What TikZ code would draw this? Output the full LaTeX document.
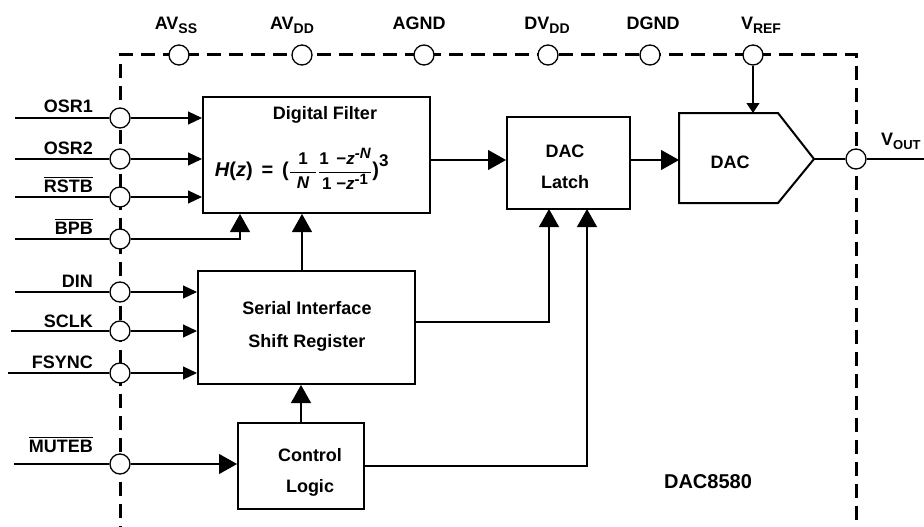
\documentclass[tikz,border=0pt]{standalone}
\usepackage{fontspec}
\setmainfont{Liberation Sans}
\usepackage{amsmath}
\usetikzlibrary{arrows.meta}
\newcommand\sub[1]{\raisebox{-4pt}{\fontsize{14}{14}\selectfont #1}}
\newcommand\ovl[1]{$\overline{\mbox{#1}}$}
\newcommand\fA[1]{\text{\fontsize{20}{20}\selectfont\bfseries #1}}
\newcommand\fAi[1]{\text{\fontsize{20}{20}\selectfont\bfseries\itshape #1}}
\newcommand\fB[1]{\text{\fontsize{17}{17}\selectfont\bfseries #1}}
\newcommand\fBi[1]{\text{\fontsize{17}{17}\selectfont\bfseries\itshape #1}}
\newcommand\fC[1]{\text{\fontsize{15}{15}\selectfont\bfseries #1}}
\newcommand\fCi[1]{\text{\fontsize{15}{15}\selectfont\bfseries\itshape #1}}
\begin{document}
\begin{tikzpicture}[x=1pt,y=-1pt,
  font=\fontsize{18}{20}\selectfont\bfseries,
  box/.style={draw, line width=2pt, inner sep=0pt},
  pin/.style={circle, draw, fill=white, line width=1.3pt, minimum size=20pt, inner sep=0pt},
  wire/.style={line width=1.1pt},
  sa/.style={wire, -{Triangle[length=14pt,width=13pt]}},
  ba/.style={wire, -{Triangle[length=18pt,width=20pt]}},
  txt/.style={inner sep=0pt},
  border/.style={line width=3pt, dash pattern=on 14pt off 8pt}]
\clip (0,0) rectangle (924,527);
% package boundary
\coordinate (bl) at (120,540);
\coordinate (tl) at (120,55);
\coordinate (tr) at (856,55);
\coordinate (br) at (856,540);
\draw[border] (bl) -- (tl) -- (tr) -- (br);
% top pins
\foreach \n/\x/\lx/\t in {avss/179/176/{AV\sub{SS}}, avdd/302/292/{AV\sub{DD}}, agnd/424/419/AGND, dvdd/548/547/{DV\sub{DD}}, dgnd/650/653/DGND, vref/753/761/{V\sub{REF}}}{
  \node[pin] (\n) at (\x,55) {};
  \node[txt, anchor=base] (\n lab) at (\lx,30) {\t};
}
% left pins
\foreach \n/\y/\t/\xs/\o in {osr1/118/OSR1/15/5, osr2/159/OSR2/15/5, rstb/197/{\ovl{RSTB}}/15/5, bpb/239/{\ovl{BPB}}/15/5, din/292/DIN/15/5, sclk/331/SCLK/11/4, fsync/373/FSYNC/8/5, muteb/464/{\ovl{MUTEB}}/14/12}{
  \node[pin] (\n) at (120,\y) {};
  \coordinate (\n in) at (\xs,\y);
  \draw[wire] (\n in) -- (\n);
  \node[txt, anchor=base east] (\n lab) at (93,\y-\o) {\t};
}
% output pin
\node[pin] (vout) at (856,159) {};
\node[txt, anchor=base west] (voutlab) at (881,145) {V\raisebox{-4pt}{\fontsize{13}{13}\selectfont OUT}};
\coordinate (vend) at (942,159);
% blocks
\node[box, minimum width=227pt, minimum height=116pt] (filter) at (316.5,155) {};
\node[txt] (filtertitle) at (325,115) {Digital Filter};
\node[txt] (formula) at (302,169) {$\fAi{H}\fA{(}\fAi{z}\fA{)\, = \,(}\dfrac{\makebox[26pt]{\fB{1}}}{\fBi{N}}\mkern1mu\dfrac{\fB{1 \,−}\fBi{z}^{\fCi{-N}}}{\fB{1 −}\fBi{z}^{\fC{-1}}}\fA{)}^{\fB{3}}$};
\node[box, minimum width=217pt, minimum height=113pt] (serial) at (306.5,327.5) {};
\node[txt, align=center, font=\fontsize{18}{33}\selectfont\bfseries] (serialtext) at (307,326.5) {Serial Interface\\Shift Register};
\node[box, minimum width=126pt, minimum height=86pt] (control) at (301,466) {};
\node[txt, align=center, font=\fontsize{18}{31}\selectfont\bfseries] (controltext) at (310,472) {Control\\Logic};
\node[box, minimum width=123pt, minimum height=92pt] (latch) at (568.5,163) {};
\node[txt, align=center, font=\fontsize{18}{31}\selectfont\bfseries] (latchtext) at (565,167) {DAC\\Latch};
% DAC
\coordinate (dac1) at (679,113);
\coordinate (dac2) at (778,113);
\coordinate (dactip) at (814,159);
\coordinate (dac4) at (778,203);
\coordinate (dac5) at (679,203);
\coordinate (dacin) at (679,160);
\coordinate (dactop) at (753,113);
\draw[line width=2pt, line join=miter] (dac1) -- (dac2) -- (dactip) -- (dac4) -- (dac5) -- cycle;
\node[txt] (dactext) at (730,162) {DAC};
\node[txt, font=\fontsize{20}{22}\selectfont\bfseries] (partname) at (708,482) {DAC8580};
% helper coordinates
\coordinate (bpbx) at (240,0);
\coordinate (fx) at (302,0);
\coordinate (sy) at (0,322);
\coordinate (l1) at (549,209);
\coordinate (l2) at (587,209);
% connectors
\draw[sa] (osr1) -- (filter.west |- osr1);
\draw[sa] (osr2) -- (filter.west |- osr2);
\draw[sa] (rstb) -- (filter.west |- rstb);
\draw[ba] (bpb) -| (filter.south -| bpbx);
\draw[ba] (serial.north -| fx) -- (filter.south -| fx);
\draw[sa] (din) -- (serial.west |- din);
\draw[sa] (sclk) -- (serial.west |- sclk);
\draw[sa] (fsync) -- (serial.west |- fsync);
\draw[ba] (muteb) -- (control.west |- muteb);
\draw[ba] (control.north) -- (serial.south -| control.north);
\draw[ba] (filter.east |- dacin) -- (latch.west |- dacin);
\draw[ba] (latch.east |- dacin) -- (dacin);
\draw[ba] (serial.east |- sy) -| (l1);
\draw[ba] (control.east) -| (l2);
\draw[wire, -{Triangle[length=10pt,width=13pt]}] (vref) -- (dactop);
\draw[wire] (dactip) -- (vout);
\draw[ba] (vout) -- (vend);
\end{tikzpicture}
\end{document}
